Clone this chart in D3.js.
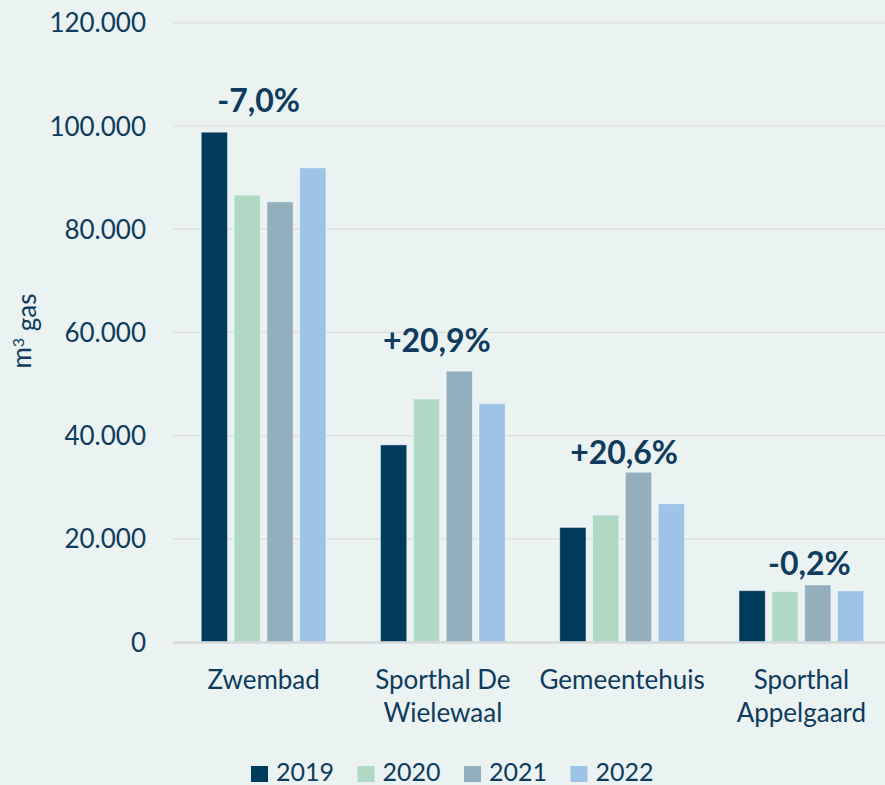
<!DOCTYPE html>
<html><head><meta charset="utf-8">
<script src="https://cdn.jsdelivr.net/npm/d3@7"></script>
<style>
html,body{margin:0;padding:0;background:#eaf2f2;}
svg{display:block;font-family:Lato,"Open Sans",sans-serif;}
</style></head><body>
<svg id="c" width="885" height="785"></svg>
<script>
// ---- data ----
const categories = ["Zwembad", "Sporthal De Wielewaal", "Gemeentehuis", "Sporthal Appelgaard"];
const categoryLines = [["Zwembad"], ["Sporthal De", "Wielewaal"], ["Gemeentehuis"], ["Sporthal", "Appelgaard"]];
const years = ["2019", "2020", "2021", "2022"];
const values2019 = [98800, 38200, 22200, 9950];
const values2020 = [86600, 47100, 24600, 9800];
const values2021 = [85300, 52500, 32900, 11050];
const values2022 = [91900, 46200, 26800, 9930];
const changeLabels = ["-7,0%", "+20,9%", "+20,6%", "-0,2%"];
const yTicks = [0, 20000, 40000, 60000, 80000, 100000, 120000];
const yTickLabels = ["0", "20.000", "40.000", "60.000", "80.000", "100.000", "120.000"];
const colors = ["#003a5d", "#afd9c5", "#93afbd", "#9dc3e6"];

const seriesByYear = [values2019, values2020, values2021, values2022];

// ---- layout ----
const svg = d3.select("#c");
const textColor = "#0f3b5c";
const x0 = d3.scaleBand().domain(categories).range([174, 891]).padding(0);
const x1 = d3.scaleBand().domain(years).range([0, x0.bandwidth()]).paddingInner(0.2).paddingOuter(0.83);
const y = d3.scaleLinear().domain([0, 120000]).range([642, 22.8]);
const color = d3.scaleOrdinal().domain(years).range(colors);

// gridlines
svg.append("g").selectAll("line").data(yTicks.filter(d => d > 0)).join("line")
  .attr("x1", 173).attr("x2", 885)
  .attr("y1", d => y(d)).attr("y2", d => y(d))
  .attr("stroke", "#d9dddd").attr("stroke-width", 1.2);

// y axis labels
const yAxis = d3.axisLeft(y).tickValues(yTicks).tickSize(0).tickPadding(0)
  .tickFormat((d, i) => yTickLabels[i]);
const gy = svg.append("g").attr("transform", "translate(146,0)").call(yAxis);
gy.select(".domain").remove();
gy.selectAll("text").attr("fill", textColor).style("font-size", "26px")
  .style("font-family", "Lato, sans-serif").attr("dy", "0.35em");

// bars
const groups = svg.append("g").selectAll("g").data(categories).join("g")
  .attr("transform", d => `translate(${x0(d)},0)`);
groups.selectAll("rect").data((c, ci) => years.map((yr, yi) => ({ yr, v: seriesByYear[yi][ci] })))
  .join("rect")
  .attr("x", d => x1(d.yr)).attr("width", x1.bandwidth())
  .attr("y", d => y(d.v)).attr("height", d => y(0) - y(d.v))
  .attr("fill", d => color(d.yr))
  .attr("stroke", "rgba(255,255,255,0.45)").attr("stroke-width", 1);

// baseline axis
svg.append("line").attr("x1", 173).attr("x2", 885).attr("y1", y(0) + 0.5).attr("y2", y(0) + 0.5)
  .attr("stroke", "#d4d8d8").attr("stroke-width", 2.5);

// category labels
const xAxis = d3.axisBottom(x0).tickSize(0).tickFormat(() => "");
const gx = svg.append("g").attr("transform", `translate(0,${y(0)})`).call(xAxis);
gx.select(".domain").remove();
gx.selectAll(".tick").each(function(d, i) {
  const t = d3.select(this).append("text").attr("fill", textColor)
    .attr("text-anchor", "middle").style("font-size", "26px").style("font-family", "Lato, sans-serif");
  categoryLines[i].forEach((ln, li) => {
    t.append("tspan").attr("x", 0).attr("y", 47 + li * 33).text(ln);
  });
});

// change annotations
const annGap = [20, 19, 8, 10];
const annDx = [-5, -6, 2, 8];
svg.append("g").selectAll("text").data(categories).join("text")
  .attr("x", (d, i) => x0(d) + x0.bandwidth() / 2 + annDx[i])
  .attr("y", (d, i) => y(d3.max(seriesByYear, s => s[i])) - annGap[i])
  .attr("text-anchor", "middle").attr("fill", textColor)
  .style("font-size", "32px").style("font-weight", "bold")
  .text((d, i) => changeLabels[i]);

// y axis title
const yt = svg.append("text").attr("transform", "translate(31,331) rotate(-90)")
  .attr("text-anchor", "middle").attr("fill", textColor).style("font-size", "26px");
yt.append("tspan").text("m");
yt.append("tspan").attr("dy", "-0.45em").style("font-size", "16px").text("3");
yt.append("tspan").attr("dy", "0.45em").text(" gas");

// legend
const legX = d3.scaleBand().domain(years).range([251, 677]);
const leg = svg.append("g").selectAll("g").data(years).join("g")
  .attr("transform", d => `translate(${legX(d)},0)`);
leg.append("rect").attr("x", 0).attr("y", 766).attr("width", 17).attr("height", 16)
  .attr("fill", d => color(d));
leg.append("text").attr("x", 25).attr("y", 781).attr("fill", textColor)
  .style("font-size", "25px").text(d => d);
</script>
</body></html>
